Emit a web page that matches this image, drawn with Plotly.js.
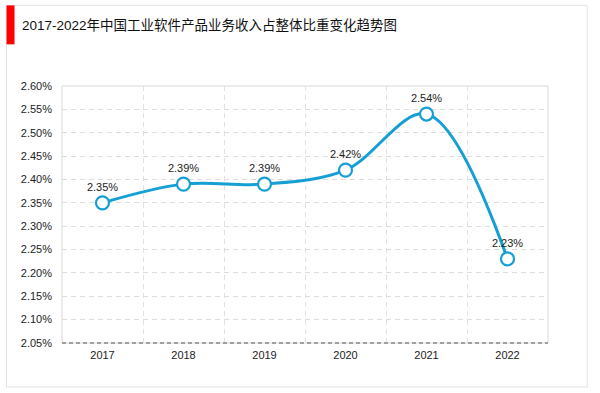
<!DOCTYPE html>
<html>
<head>
<meta charset="utf-8">
<script src="https://cdn.plot.ly/plotly-3.0.1.min.js"></script>
<style>
html,body{margin:0;padding:0;background:#fff;}
#chart{width:600px;height:393px;}
</style>
</head>
<body>
<div id="chart"></div>
<script>
var years = [2017, 2018, 2019, 2020, 2021, 2022];
var shares = [2.35, 2.39, 2.39, 2.42, 2.54, 2.23];
var yTicks = [2.05, 2.10, 2.15, 2.20, 2.25, 2.30, 2.35, 2.40, 2.45, 2.50, 2.55, 2.60];
var titleText = '2017-2022年中国工业软件产品业务收入占整体比重变化趋势图';

var fontFam = '"Liberation Sans", Arial, "Noto Sans CJK SC", sans-serif';
var blue = '#169fd4';

var trace = {
  x: years,
  y: shares,
  type: 'scatter',
  mode: 'lines+markers+text',
  line: {color: blue, width: 3, shape: 'spline', smoothing: 1},
  marker: {size: 13, color: '#ffffff', line: {color: blue, width: 2.2}},
  text: shares.map(function(v){ return v.toFixed(2) + '%'; }),
  textposition: 'top center',
  textfont: {family: fontFam, size: 11, color: '#222'},
  cliponaxis: false,
  hoverinfo: 'skip'
};

var L = 61.5, R = 547.7, T = 85.7, B = 343;
var W = R - L, H = B - T;
function px(x){ return (x - L) / W; }
function py(y){ return (B - y) / H; }

var layout = {
  width: 600, height: 393,
  margin: {l: L, r: 600 - R, t: T, b: 393 - B, pad: 0},
  paper_bgcolor: '#ffffff',
  plot_bgcolor: '#ffffff',
  showlegend: false,
  title: {
    text: titleText,
    x: 22/600, xanchor: 'left', xref: 'container',
    y: 1 - 25.5/393, yanchor: 'middle', yref: 'container',
    font: {family: fontFam, size: 13.5, color: '#111'}
  },
  xaxis: {
    range: [2016.5, 2022.5],
    tickmode: 'array',
    tickvals: years,
    ticktext: years.map(String),
    showgrid: false,
    zeroline: false,
    showline: false,
    ticks: '',
    ticklabelstandoff: 4,
    tickfont: {family: fontFam, size: 11, color: '#222'},
    minor: {tickmode: 'linear', tick0: 2016.5, dtick: 1, showgrid: true, gridcolor: '#e2e2e2', griddash: '5px,4px', gridwidth: 1, ticks: ''},
    fixedrange: true
  },
  yaxis: {
    range: [2.05, 2.60],
    tickmode: 'array',
    tickvals: yTicks,
    ticktext: yTicks.map(function(v){ return v.toFixed(2) + '%'; }),
    showgrid: true,
    gridcolor: '#dcdcdc',
    griddash: '5px,4px',
    gridwidth: 1,
    zeroline: false,
    showline: false,
    ticks: '',
    ticklabelstandoff: 9,
    tickfont: {family: fontFam, size: 11, color: '#222'},
    fixedrange: true
  },
  shapes: [
    {type: 'rect', xref: 'paper', yref: 'paper', x0: px(6), x1: px(587), y0: py(387), y1: py(5),
     line: {color: '#e3e3e3', width: 1}, fillcolor: 'rgba(0,0,0,0)', layer: 'below'},
    {type: 'rect', xref: 'paper', yref: 'paper', x0: px(6), x1: px(14), y0: py(44), y1: py(5),
     line: {width: 0}, fillcolor: '#ff0000', layer: 'above'},
    {type: 'rect', xref: 'paper', yref: 'paper', x0: 0, x1: 1, y0: 0, y1: 1,
     line: {color: '#d9d9d9', width: 1}, fillcolor: 'rgba(0,0,0,0)', layer: 'below'},
    {type: 'line', xref: 'paper', yref: 'paper', x0: 0, x1: 1, y0: 0, y1: 0,
     line: {color: '#555555', width: 1.2, dash: '4px,3px'}, layer: 'above'}
  ]
};

Plotly.newPlot('chart', [trace], layout, {displayModeBar: false, staticPlot: true});
</script>
</body>
</html>
